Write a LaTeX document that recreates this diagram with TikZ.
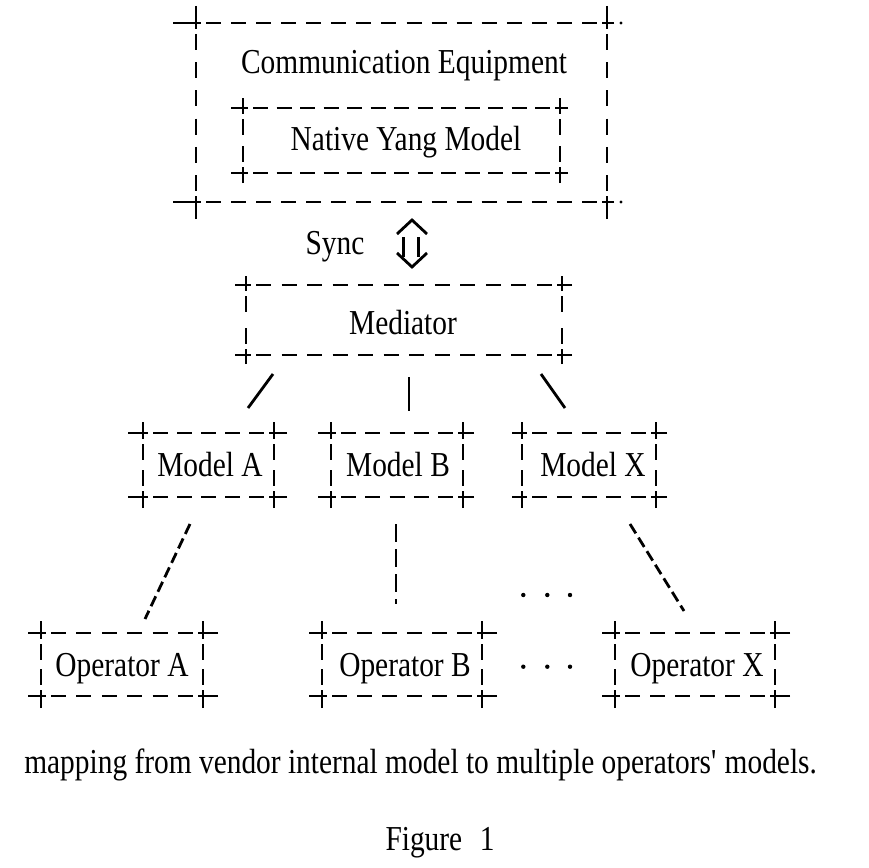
\documentclass[tikz,border=0pt]{standalone}
\usepackage{fontspec}
\setmainfont{Liberation Serif}[FakeStretch=0.84]
\usetikzlibrary{calc}
\newcommand\fs{\fontsize{35}{40}\selectfont}
% evenly spaced dashes from #1 to #2, dash length #3, nominal gap #4
\newcommand\dashes[4]{%
  \pgfpointdiff{\pgfpointanchor{#1}{center}}{\pgfpointanchor{#2}{center}}%
  \pgfgetlastxy{\dX}{\dY}%
  \pgfmathsetmacro\dL{veclen(\dX,\dY)}%
  \pgfmathtruncatemacro\dN{round((\dL+#4)/(#3+#4))}%
  \pgfmathsetmacro\dG{(\dL-\dN*#3)/max(\dN-1,1)}%
  \foreach \i in {1,...,\dN}{%
    \pgfmathsetmacro\dS{(\i-1)*(#3+\dG)}%
    \pgfmathsetmacro\dE{\dS+#3}%
    \draw[ln] ($(#1)!\dS pt!(#2)$) -- ($(#1)!\dE pt!(#2)$);
  }%
}
% \abox{node}{left ext}{right ext}{vertical ext}
\newcommand\abox[4]{%
  \draw[ln] ([xshift=-#2]#1.north west) -- ([xshift=5pt]#1.north west);
  \draw[ln] ([xshift=#3]#1.north east) -- ([xshift=-5pt]#1.north east);
  \draw[ln] ([xshift=-#2]#1.south west) -- ([xshift=5pt]#1.south west);
  \draw[ln] ([xshift=#3]#1.south east) -- ([xshift=-5pt]#1.south east);
  \draw[ln] ([yshift=#4]#1.north west) -- ([yshift=-6pt]#1.north west);
  \draw[ln] ([yshift=#4]#1.north east) -- ([yshift=-6pt]#1.north east);
  \draw[ln] ([yshift=-#4]#1.south west) -- ([yshift=6pt]#1.south west);
  \draw[ln] ([yshift=-#4]#1.south east) -- ([yshift=6pt]#1.south east);
  \coordinate (#1-ta) at ([xshift=10pt]#1.north west);
  \coordinate (#1-tb) at ([xshift=-10pt]#1.north east);
  \coordinate (#1-ba) at ([xshift=10pt]#1.south west);
  \coordinate (#1-bb) at ([xshift=-10pt]#1.south east);
  \coordinate (#1-la) at ([yshift=-11pt]#1.north west);
  \coordinate (#1-lb) at ([yshift=11pt]#1.south west);
  \coordinate (#1-ra) at ([yshift=-11pt]#1.north east);
  \coordinate (#1-rb) at ([yshift=11pt]#1.south east);
  \dashes{#1-ta}{#1-tb}{15}{9.5}
  \dashes{#1-ba}{#1-bb}{15}{9.5}
  \dashes{#1-la}{#1-lb}{16}{12}
  \dashes{#1-ra}{#1-rb}{16}{12}
}
\tikzset{
  ln/.style={line width=2.8pt},
  frame/.style={draw=none, inner sep=0pt, outer sep=0pt},
  txt/.style={font=\fs, inner sep=0pt, anchor=base},
  conn/.style={line width=2.8pt},
  dconn/.style={line width=2.8pt, dash pattern=on 11pt off 5pt},
}
\begin{document}
\begin{tikzpicture}[x=1pt,y=-1pt]
\useasboundingbox (0,0) rectangle (869,867);
% frames
\node[frame, minimum width=411pt, minimum height=179pt] (ce) at (401.5,112.5) {};
\node[frame, minimum width=317pt, minimum height=65pt] (nym) at (401.5,140.5) {};
\node[frame, minimum width=316pt, minimum height=70pt] (med) at (404,320) {};
\node[frame, minimum width=131pt, minimum height=64pt] (mA) at (208.5,465) {};
\node[frame, minimum width=132pt, minimum height=64pt] (mB) at (397,465) {};
\node[frame, minimum width=134pt, minimum height=64pt] (mX) at (589,465) {};
\node[frame, minimum width=162pt, minimum height=63pt] (oA) at (122,664.5) {};
\node[frame, minimum width=160pt, minimum height=63pt] (oB) at (402,664.5) {};
\node[frame, minimum width=160pt, minimum height=63pt] (oX) at (695,664.5) {};
\abox{ce}{23pt}{7pt}{17pt}
\fill (621,23) circle (1.6pt);
\fill (621,202) circle (1.6pt);
\abox{nym}{12pt}{8pt}{10pt}
\abox{med}{11pt}{10pt}{9pt}
\abox{mA}{15pt}{13pt}{11pt}
\abox{mB}{13pt}{11pt}{11pt}
\abox{mX}{10pt}{11pt}{11pt}
\abox{oA}{13pt}{15pt}{12pt}
\abox{oB}{13pt}{15pt}{12pt}
\abox{oX}{13pt}{15pt}{12pt}
% texts
\node[txt] (tce) at (404,73) {Communication Equipment};
\node[txt] (tnym) at (406,150.5) {Native Yang Model};
\node[txt] (tmed) at (403,334) {Mediator};
\node[txt] (tsync) at (335,254) {Sync};
\node[txt] (tmA) at (210,476.5) {Model A};
\node[txt] (tmB) at (398,476.5) {Model B};
\node[txt] (tmX) at (593,476.5) {Model X};
\node[txt] (toA) at (122,676.5) {Operator A};
\node[txt] (toB) at (405,676.5) {Operator B};
\node[txt] (toX) at (697,676.5) {Operator X};
\node[txt] (cap) at (420.6,773) {mapping from vendor internal model to multiple operators\textquotesingle{} models.};
\node[txt] (fig) at (440,850.5) {Figure\hspace{0.5em}1};
% sync arrow
\coordinate (sa1) at (397,234); \coordinate (sa2) at (412,220); \coordinate (sa3) at (427,234);
\coordinate (sb1) at (397,253); \coordinate (sb2) at (412,267); \coordinate (sb3) at (427,253);
\draw[ln] (sa1) -- (sa2) -- (sa3);
\draw[ln] (sb1) -- (sb2) -- (sb3);
\draw[ln] (403.3,237) -- (403.3,257);
\draw[ln] (418.3,237) -- (418.3,257);
% connectors mediator -> models
\coordinate (c1a) at (273,374); \coordinate (c1b) at (248,408);
\coordinate (c2a) at (409,377); \coordinate (c2b) at (409,411);
\coordinate (c3a) at (541,374); \coordinate (c3b) at (565,408);
\draw[conn] (c1a) -- (c1b);
\draw[conn] (c2a) -- (c2b);
\draw[conn] (c3a) -- (c3b);
% connectors models -> operators
\coordinate (d1a) at (190,524); \coordinate (d1b) at (145,619);
\coordinate (d2a) at (396,524); \coordinate (d2b) at (396,604);
\coordinate (d3a) at (630,524); \coordinate (d3b) at (684,611);
\draw[dconn] (d1a) -- (d1b);
\draw[line width=2.8pt, dash pattern=on 17.5pt off 7.5pt] (d2a) -- (d2b);
\draw[dconn] (d3a) -- (d3b);
% ellipses
\foreach \x in {523.3,547.3,570} {
  \fill (\x,595) circle (2.2pt);
  \fill (\x,666.7) circle (2.2pt);
}
\end{tikzpicture}
\end{document}
